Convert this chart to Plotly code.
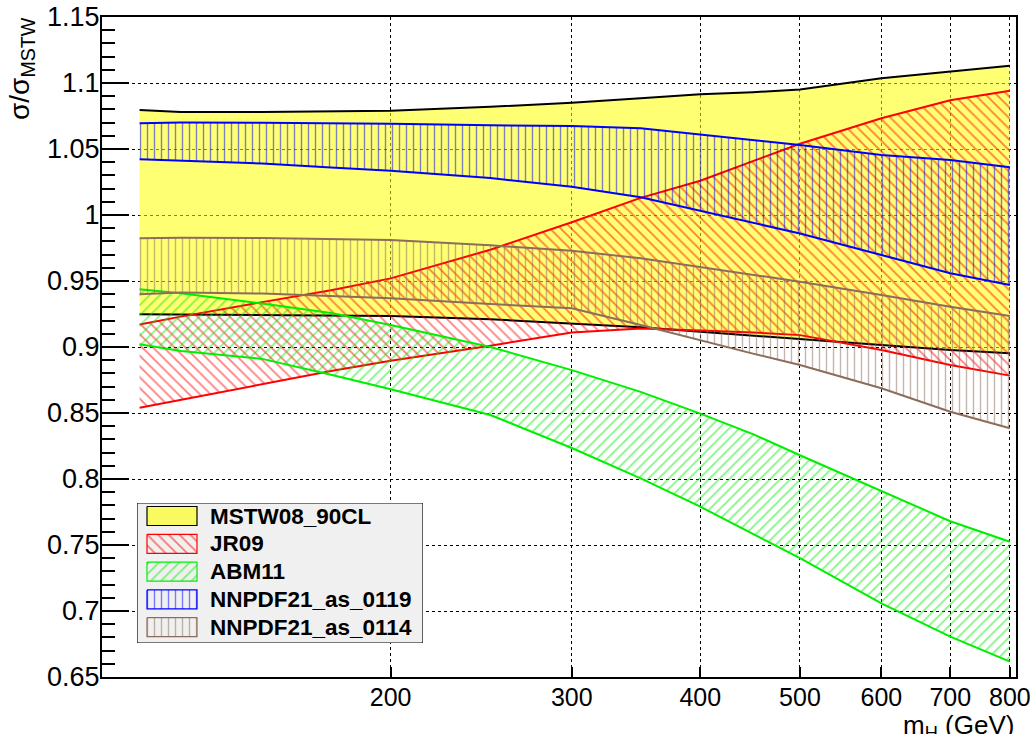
import plotly.graph_objects as go
import math

# ---------------- data ----------------
m_h = [114, 125, 150, 175, 200, 250, 300, 350, 400, 450, 500, 600, 700, 800]

mstw_up = [1.0795, 1.078, 1.078, 1.0785, 1.079, 1.082, 1.085, 1.0885, 1.0914, 1.093, 1.095, 1.1036, 1.1086, 1.113]
mstw_lo = [0.9248, 0.9245, 0.924, 0.9238, 0.9235, 0.921, 0.918, 0.915, 0.9116, 0.9088, 0.906, 0.9015, 0.8977, 0.8952]
jr09_up = [0.917, 0.923, 0.934, 0.943, 0.952, 0.9737, 0.9945, 1.013, 1.026, 1.041, 1.054, 1.0733, 1.087, 1.0942]
jr09_lo = [0.854, 0.860, 0.8716, 0.8818, 0.8895, 0.901, 0.911, 0.914, 0.9125, 0.911, 0.909, 0.8977, 0.8864, 0.8783]
abm11_up = [0.9437, 0.9407, 0.933, 0.9258, 0.9167, 0.900, 0.8825, 0.866, 0.8495, 0.834, 0.818, 0.791, 0.768, 0.7525]
abm11_lo = [0.902, 0.897, 0.891, 0.879, 0.868, 0.8485, 0.8235, 0.8005, 0.779, 0.7585, 0.740, 0.7058, 0.6806, 0.6616]
nn119_up = [1.0695, 1.070, 1.0698, 1.0695, 1.0692, 1.068, 1.0674, 1.0657, 1.061, 1.057, 1.053, 1.0455, 1.0417, 1.0361]
nn119_lo = [1.0422, 1.041, 1.039, 1.036, 1.0336, 1.028, 1.0214, 1.0134, 1.003, 0.994, 0.986, 0.9697, 0.9558, 0.947]
nn114_up = [0.9823, 0.9828, 0.9825, 0.982, 0.981, 0.977, 0.973, 0.9672, 0.9605, 0.955, 0.9495, 0.9394, 0.9305, 0.9235]
nn114_lo = [0.940, 0.9412, 0.9405, 0.9385, 0.9369, 0.9325, 0.9293, 0.9167, 0.905, 0.895, 0.8864, 0.8687, 0.851, 0.8384]

series_names = ["MSTW08_90CL", "JR09", "ABM11", "NNPDF21_as_0119", "NNPDF21_as_0114"]

x_ticks = [200, 300, 400, 500, 600, 700, 800]
y_ticks = [0.65, 0.7, 0.75, 0.8, 0.85, 0.9, 0.95, 1.0, 1.05, 1.1, 1.15]

# ---------------- styles ----------------
TRANSP = "rgba(0,0,0,0)"
styles = [
    dict(line="#000000", fill="rgba(255,255,0,0.55)", pattern=None),
    dict(line="#ff0000", fill=TRANSP, pattern=dict(shape="\\", fgcolor="#ff0000", bgcolor=TRANSP, size=7.6, solidity=0.24)),
    dict(line="#00ee00", fill=TRANSP, pattern=dict(shape="/", fgcolor="#00ee00", bgcolor=TRANSP, size=7.2, solidity=0.24)),
    dict(line="#0000ff", fill=TRANSP, pattern=dict(shape="|", fgcolor="#0000ff", bgcolor=TRANSP, size=7, solidity=0.2)),
    dict(line="#8c6d5c", fill=TRANSP, pattern=dict(shape="|", fgcolor="#8c6d5c", bgcolor=TRANSP, size=7, solidity=0.2)),
]
bands = [(mstw_up, mstw_lo), (jr09_up, jr09_lo), (abm11_up, abm11_lo),
         (nn119_up, nn119_lo), (nn114_up, nn114_lo)]

FONT = "Liberation Sans, Arial, Helvetica, sans-serif"

fig = go.Figure()

for name, (up, lo), st in zip(series_names, bands, styles):
    kw = dict(fillpattern=st["pattern"]) if st["pattern"] else {}
    fig.add_trace(go.Scatter(
        x=m_h + m_h[::-1], y=up + lo[::-1], fill="toself", fillcolor=st["fill"],
        mode="none", showlegend=False, hoverinfo="skip", name=name, **kw))
    for arr in (up, lo):
        fig.add_trace(go.Scatter(x=m_h, y=arr, mode="lines", showlegend=False,
                                 line=dict(color=st["line"], width=2), hoverinfo="skip"))

# ---------------- custom legend in an inset subplot ----------------
LW, LH = 286, 140           # legend box size in px
row0, rowstep = 13, 27.8
sw_x0, sw_x1, sw_h = 10, 60, 19
fig.add_trace(go.Scatter(x=[0, LW, LW, 0, 0], y=[0, 0, LH, LH, 0], fill="toself",
                         fillcolor="#f0f0f0", mode="lines", line=dict(color="black", width=1.2),
                         xaxis="x2", yaxis="y2", showlegend=False, hoverinfo="skip"))
for i, (name, st) in enumerate(zip(series_names, styles)):
    c = row0 + i * rowstep
    kw = dict(fillpattern=st["pattern"]) if st["pattern"] else {}
    fillc = "rgba(255,255,0,0.6)" if i == 0 else st["fill"]
    fig.add_trace(go.Scatter(
        x=[sw_x0, sw_x1, sw_x1, sw_x0, sw_x0],
        y=[c - sw_h / 2, c - sw_h / 2, c + sw_h / 2, c + sw_h / 2, c - sw_h / 2],
        fill="toself", fillcolor=fillc, mode="lines",
        line=dict(color=st["line"], width=1.2), xaxis="x2", yaxis="y2",
        showlegend=False, hoverinfo="skip", **kw))
    fig.add_annotation(x=71, y=c, xref="x2", yref="y2", text=name, showarrow=False,
                       xanchor="left", yanchor="middle",
                       font=dict(family=FONT, size=22.5, color="black", weight="bold"))

# ---------------- axes titles ----------------
fig.add_annotation(text="σ/σ<sub>MSTW</sub>", xref="paper", yref="paper",
                   x=-0.1095, y=1.003, xanchor="left", yanchor="top", textangle=-90,
                   showarrow=False, font=dict(family=FONT, size=28, color="black"))
fig.add_annotation(text="m<sub>H</sub> (GeV)", xref="paper", yref="paper",
                   x=1.0, y=-0.047, xanchor="right", yanchor="top",
                   showarrow=False, font=dict(family=FONT, size=26, color="black"))

fig.update_layout(
    width=1034, height=734,
    margin=dict(l=102, r=18, t=17, b=57, autoexpand=False),
    paper_bgcolor="white", plot_bgcolor="white",
    font=dict(family=FONT, size=25, color="black"),
    showlegend=False,
    xaxis=dict(type="log", range=[math.log10(104.8), math.log10(811)],
               tickvals=x_ticks, ticktext=[str(v) for v in x_ticks],
               ticks="inside", ticklen=10, tickwidth=1.5, tickcolor="black",
               showline=True, linecolor="black", linewidth=2, mirror=True,
               showgrid=True, gridcolor="black", griddash="dot", gridwidth=1,
               zeroline=False, tickfont=dict(size=25), ticklabelstandoff=-3,
               automargin=False),
    yaxis=dict(range=[0.65, 1.15], tickvals=y_ticks, ticktext=[f"{v:g}" for v in y_ticks],
               ticks="inside", ticklen=27, tickwidth=1.5, tickcolor="black",
               minor=dict(dtick=0.01, ticks="inside", ticklen=13, tickwidth=1.5,
                          tickcolor="black", showgrid=False),
               showline=True, linecolor="black", linewidth=2, mirror=True,
               showgrid=True, gridcolor="black", griddash="dot", gridwidth=1,
               zeroline=False, tickfont=dict(size=27), ticklabelstandoff=-5,
               automargin=False),
    xaxis2=dict(domain=[(137 - 102) / 914, (423 - 102) / 914], range=[0, LW],
                visible=False, anchor="y2", fixedrange=True, automargin=False),
    yaxis2=dict(domain=[(677 - 643) / 660, (677 - 503) / 660], range=[LH, 0],
                visible=False, anchor="x2", fixedrange=True, automargin=False),
)

fig.write_html("out.html", config={"displayModeBar": False},
               post_script="document.body.style.margin='0px';document.body.style.padding='0px';")
